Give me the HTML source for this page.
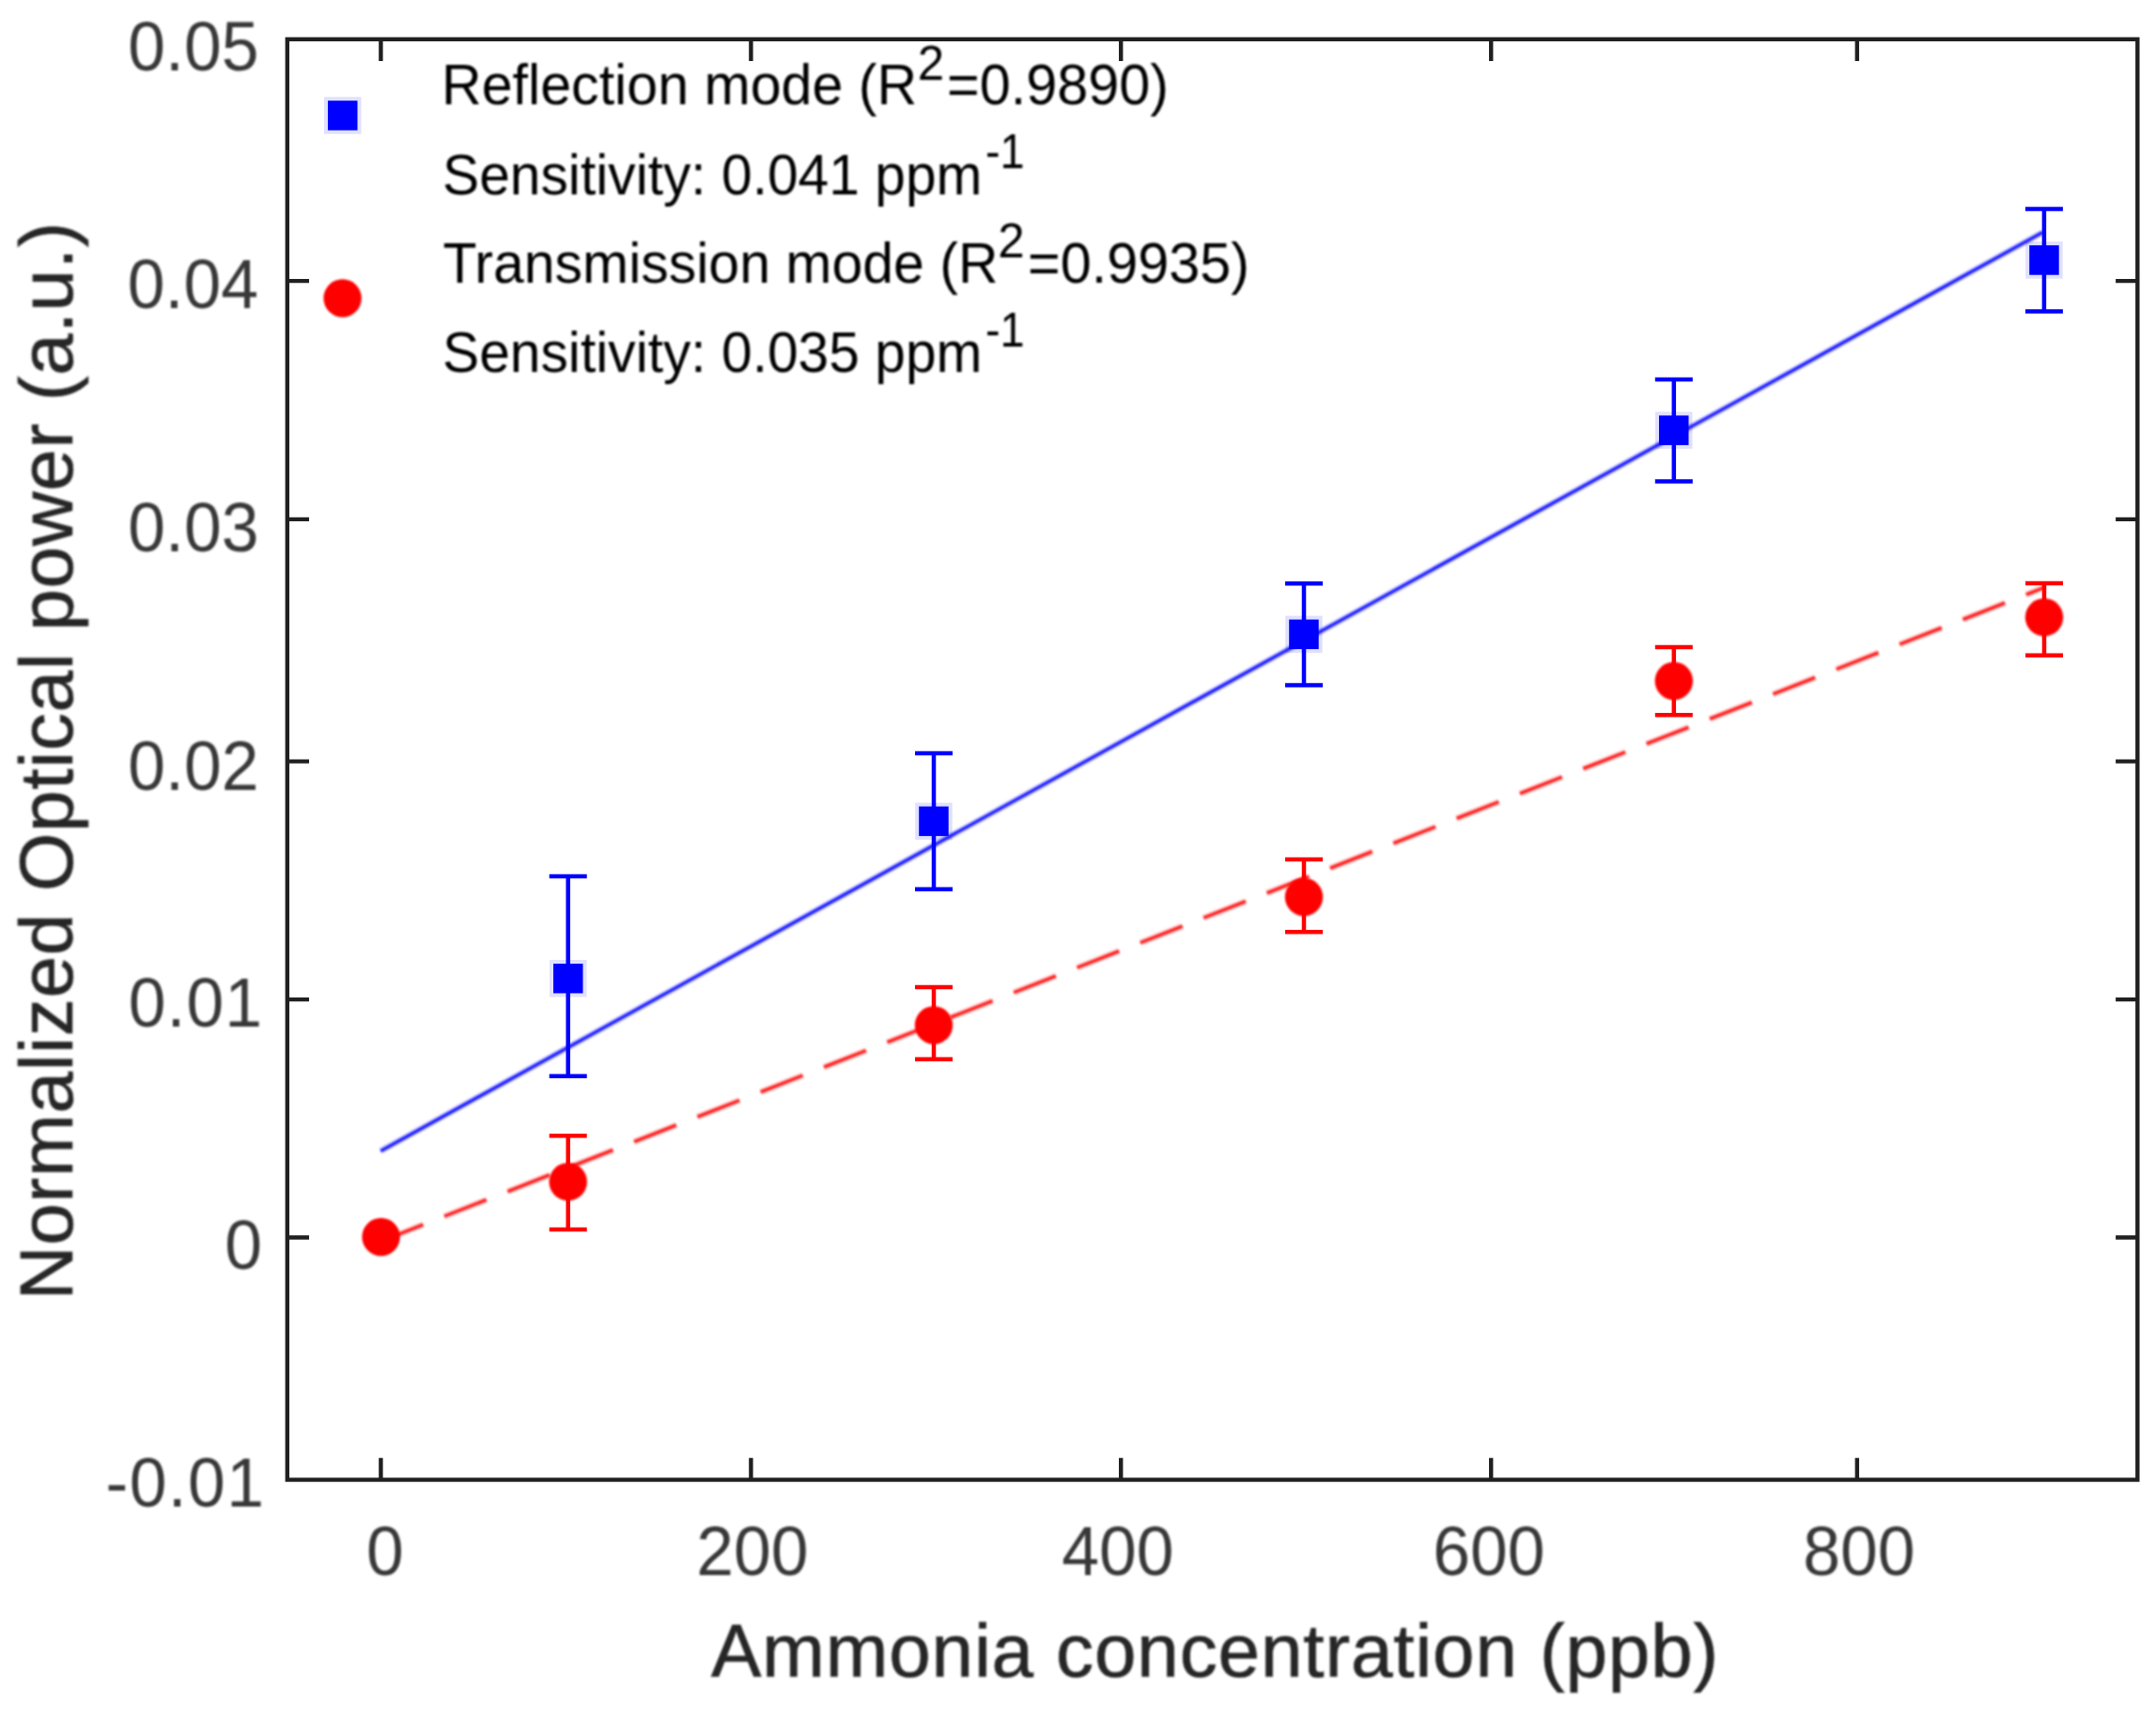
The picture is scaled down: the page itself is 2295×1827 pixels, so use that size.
<!DOCTYPE html>
<html lang="en"><head><meta charset="utf-8"><title>Normalized optical power vs ammonia concentration</title>
<style>html,body{margin:0;padding:0;background:#fff}body{width:2295px;height:1827px;overflow:hidden}svg{display:block}text{font-family:"Liberation Sans", sans-serif}</style></head><body>
<svg width="2295" height="1827" viewBox="0 0 2295 1827">
<defs><filter id="soft" x="-2%" y="-2%" width="104%" height="104%"><feGaussianBlur stdDeviation="0.9"/></filter><filter id="softc" x="-20%" y="-20%" width="140%" height="140%"><feGaussianBlur stdDeviation="0.9"/></filter></defs>
<rect width="2295" height="1827" fill="#fff"/>
<g filter="url(#soft)">
<g fill="none" stroke="#0000ff" stroke-linecap="butt">
<line x1="405.2" y1="1225.4" x2="2174.5" y2="247.3" stroke-width="7" stroke-opacity="0.2"/>
<line x1="405.2" y1="1225.4" x2="2174.5" y2="247.3" stroke-width="3.4" stroke-opacity="0.85"/>
</g>
<g fill="none" stroke="#ff0000" stroke-linecap="butt" stroke-dasharray="48.2 24.17">
<line x1="405.6" y1="1321.5" x2="2176.0" y2="625.5" stroke-width="7" stroke-opacity="0.2"/>
<line x1="405.6" y1="1321.5" x2="2176.0" y2="625.5" stroke-width="3.4" stroke-opacity="0.85"/>
</g>
</g>
<path d="M604.7 933.0V1145.7M584.7 933.0H624.7M584.7 1145.7H624.7" stroke="#0000ff" stroke-width="4.5" fill="none"/>
<rect x="589.0" y="1026.0" width="31.5" height="31.5" fill="#0000ff" stroke="#0000ff" stroke-opacity="0.12" stroke-width="8"/>
<path d="M994.0 802.0V946.7M974.0 802.0H1014.0M974.0 946.7H1014.0" stroke="#0000ff" stroke-width="4.5" fill="none"/>
<rect x="978.2" y="858.6" width="31.5" height="31.5" fill="#0000ff" stroke="#0000ff" stroke-opacity="0.12" stroke-width="8"/>
<path d="M1388.0 621.2V729.6M1368.0 621.2H1408.0M1368.0 729.6H1408.0" stroke="#0000ff" stroke-width="4.5" fill="none"/>
<rect x="1372.2" y="659.6" width="31.5" height="31.5" fill="#0000ff" stroke="#0000ff" stroke-opacity="0.12" stroke-width="8"/>
<path d="M1781.8 403.9V512.5M1761.8 403.9H1801.8M1761.8 512.5H1801.8" stroke="#0000ff" stroke-width="4.5" fill="none"/>
<rect x="1766.0" y="442.4" width="31.5" height="31.5" fill="#0000ff" stroke="#0000ff" stroke-opacity="0.12" stroke-width="8"/>
<path d="M2175.9 222.6V331.4M2155.9 222.6H2195.9M2155.9 331.4H2195.9" stroke="#0000ff" stroke-width="4.5" fill="none"/>
<rect x="2160.2" y="261.2" width="31.5" height="31.5" fill="#0000ff" stroke="#0000ff" stroke-opacity="0.12" stroke-width="8"/>
<circle cx="405.6" cy="1317.0" r="20.2" fill="#ff0000" filter="url(#softc)"/>
<path d="M604.7 1209.3V1308.9M584.7 1209.3H624.7M584.7 1308.9H624.7" stroke="#ff0000" stroke-width="4.5" fill="none"/>
<circle cx="604.7" cy="1258.2" r="20.2" fill="#ff0000" filter="url(#softc)"/>
<path d="M994.0 1051.0V1127.8M974.0 1051.0H1014.0M974.0 1127.8H1014.0" stroke="#ff0000" stroke-width="4.5" fill="none"/>
<circle cx="994.0" cy="1091.5" r="20.2" fill="#ff0000" filter="url(#softc)"/>
<path d="M1388.0 914.9V992.2M1368.0 914.9H1408.0M1368.0 992.2H1408.0" stroke="#ff0000" stroke-width="4.5" fill="none"/>
<circle cx="1388.0" cy="955.0" r="20.2" fill="#ff0000" filter="url(#softc)"/>
<path d="M1781.8 689.1V761.3M1761.8 689.1H1801.8M1761.8 761.3H1801.8" stroke="#ff0000" stroke-width="4.5" fill="none"/>
<circle cx="1781.8" cy="725.0" r="20.2" fill="#ff0000" filter="url(#softc)"/>
<path d="M2176.0 620.9V697.7M2156.0 620.9H2196.0M2156.0 697.7H2196.0" stroke="#ff0000" stroke-width="4.5" fill="none"/>
<circle cx="2176.0" cy="657.2" r="20.2" fill="#ff0000" filter="url(#softc)"/>
<rect x="349" y="107.2" width="31.5" height="31.5" fill="#0000ff" stroke="#0000ff" stroke-opacity="0.12" stroke-width="8"/>
<circle cx="364.6" cy="317.5" r="20.2" fill="#ff0000" filter="url(#softc)"/>
<g stroke="#202020" stroke-width="4.4" fill="none" stroke-linecap="butt">
<rect x="305.8" y="41.8" width="1969.5" height="1533.7"/>
<path d="M405.4 1575.5V1552.3M405.4 41.8V65.0M799.4 1575.5V1552.3M799.4 41.8V65.0M1193.2 1575.5V1552.3M1193.2 41.8V65.0M1587.2 1575.5V1552.3M1587.2 41.8V65.0M1976.8 1575.5V1552.3M1976.8 41.8V65.0M305.8 299.1H329.0M2275.3 299.1H2252.1M305.8 552.9H329.0M2275.3 552.9H2252.1M305.8 810.6H329.0M2275.3 810.6H2252.1M305.8 1064.1H329.0M2275.3 1064.1H2252.1M305.8 1317.5H329.0M2275.3 1317.5H2252.1"/>
</g>
<g filter="url(#soft)">
<g fill="#383838" font-size="71.5">
<text transform="translate(275.5 75.3) scale(1 1.035)" text-anchor="end">0.05</text>
<text transform="translate(275.0 328.1) scale(1 1.035)" text-anchor="end">0.04</text>
<text transform="translate(275.5 586.7) scale(1 1.035)" text-anchor="end">0.03</text>
<text transform="translate(275.5 840.5) scale(1 1.035)" text-anchor="end">0.02</text>
<text transform="translate(280.0 1093.3) scale(1 1.035)" text-anchor="end" letter-spacing="1.0">0.01</text>
<text transform="translate(279.0 1350.6) scale(1 1.035)" text-anchor="end">0</text>
<text transform="translate(282.4 1603.6) scale(1 1.035)" text-anchor="end" letter-spacing="1.4">-0.01</text>
<text transform="translate(410.0 1676.6) scale(1 1.035)" text-anchor="middle">0</text>
<text transform="translate(800.8 1676.6) scale(1 1.035)" text-anchor="middle">200</text>
<text transform="translate(1189.9 1676.6) scale(1 1.035)" text-anchor="middle">400</text>
<text transform="translate(1584.8 1676.6) scale(1 1.035)" text-anchor="middle">600</text>
<text transform="translate(1978.9 1676.6) scale(1 1.035)" text-anchor="middle">800</text>
</g>
<g fill="#262626" stroke="#262626" stroke-width="0.7" font-size="80">
<text x="1293.5" y="1784.8" text-anchor="middle" letter-spacing="0.88">Ammonia concentration (ppb)</text>
<text transform="translate(76.9 810.0) rotate(-90)" text-anchor="middle" letter-spacing="0.76">Normalized Optical power (a.u.)</text>
</g>
<g fill="#000">
<text transform="translate(470.0 111.3) scale(0.962 1)" font-size="61.5">Reflection mode (R</text>
<text transform="translate(976.8 84.5) scale(1.000 1)" font-size="51.0">2</text>
<text transform="translate(1008.0 111.3) scale(0.966 1)" font-size="61.5">=0.9890)</text>
<text transform="translate(471.0 206.8) scale(0.955 1)" font-size="61.5">Sensitivity: 0.041 ppm</text>
<text transform="translate(1049.0 179.1) scale(0.920 1)" font-size="51.0">-1</text>
<text transform="translate(471.5 300.8) scale(0.959 1)" font-size="61.5">Transmission mode (R</text>
<text transform="translate(1062.3 274.2) scale(1.000 1)" font-size="51.0">2</text>
<text transform="translate(1094.0 300.8) scale(0.966 1)" font-size="61.5">=0.9935)</text>
<text transform="translate(471.0 396.2) scale(0.955 1)" font-size="61.5">Sensitivity: 0.035 ppm</text>
<text transform="translate(1049.0 369.2) scale(0.920 1)" font-size="51.0">-1</text>
</g>
</g>
</svg>
</body></html>
